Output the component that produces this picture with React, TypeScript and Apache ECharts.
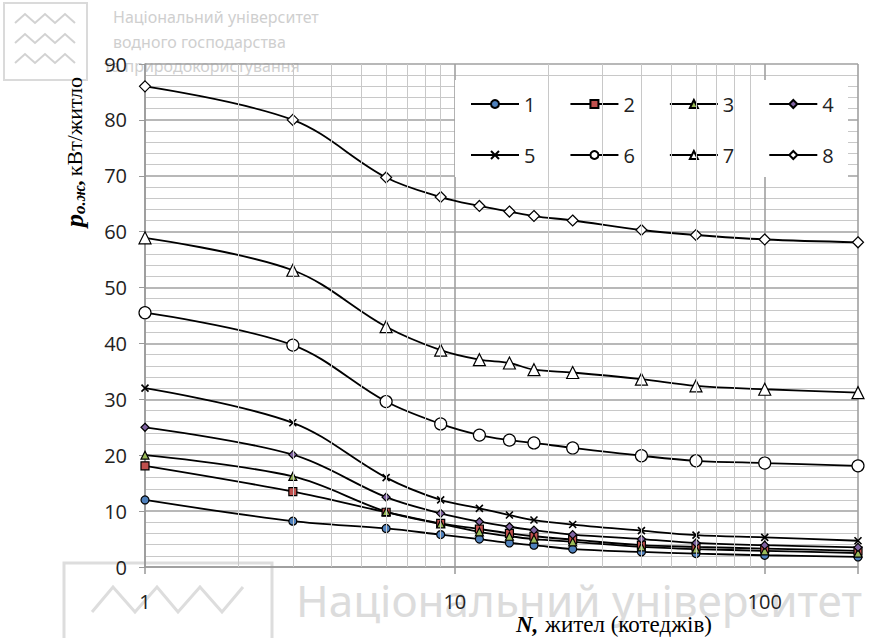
import React, { useEffect, useRef } from "react";
import * as echarts from "echarts";

const xValues = [1, 3, 6, 9, 12, 15, 18, 24, 40, 60, 100, 200];
const s1 = [12.0, 8.2, 6.9, 5.8, 5.0, 4.3, 3.9, 3.2, 2.7, 2.4, 2.1, 1.8];
const s2 = [18.1, 13.5, 9.8, 7.8, 6.8, 6.0, 5.5, 4.9, 3.9, 3.6, 3.3, 2.9];
const s3 = [20.0, 16.2, 9.9, 7.7, 6.3, 5.5, 5.0, 4.5, 3.6, 3.2, 2.9, 2.5];
const s4 = [25.0, 20.1, 12.5, 9.6, 8.1, 7.2, 6.6, 5.8, 5.0, 4.3, 3.9, 3.5];
const s5 = [32.0, 25.8, 16.0, 12.0, 10.5, 9.3, 8.4, 7.6, 6.5, 5.7, 5.3, 4.7];
const s6 = [45.5, 39.7, 29.6, 25.6, 23.6, 22.7, 22.2, 21.3, 19.9, 19.0, 18.6, 18.1];
const s7 = [58.9, 53.1, 43.0, 38.8, 37.1, 36.5, 35.3, 34.8, 33.6, 32.4, 31.8, 31.2];
const s8 = [86.0, 80.0, 69.7, 66.2, 64.6, 63.6, 62.8, 62.0, 60.3, 59.4, 58.6, 58.1];
const seriesNames = ["1", "2", "3", "4", "5", "6", "7", "8"];
const minorX = [2, 3, 4, 5, 6, 7, 8, 9, 20, 30, 40, 50, 60, 70, 80, 90];
const majorXLabels = [1, 10, 100];

const crossPath = "path://M0,0L10,10M10,0L0,10";

const markerDefs = [
  { symbol: "circle", size: 8, fill: "#4F81BD" },
  { symbol: "rect", size: 8, fill: "#C0504D" },
  { symbol: "triangle", size: 8, fill: "#9BBB59" },
  { symbol: "diamond", size: 8, fill: "#8064A2" },
  { symbol: crossPath, size: 7, fill: "#000" },
  { symbol: "circle", size: 12, fill: "#fff" },
  { symbol: "triangle", size: 12, fill: "#fff" },
  { symbol: "diamond", size: 11, fill: "#fff" },
];

export default function App() {
  const ref = useRef<HTMLDivElement>(null);
  useEffect(() => {
    if (!ref.current) return;
    const chart = echarts.init(ref.current, undefined, { renderer: "svg" });
    const all = [s1, s2, s3, s4, s5, s6, s7, s8];
    const series: any[] = all.map((vals, i) => {
      const m = markerDefs[i];
      const s: any = {
        name: seriesNames[i],
        type: "line",
        smooth: 0.35,
        z: 2,
        data: xValues.map((x, k) => [x, vals[k]]),
        symbol: m.symbol,
        symbolSize: m.size,
        showAllSymbol: true,
        lineStyle: { color: "#000", width: 1.8 },
        itemStyle: { color: m.fill, borderColor: "#000", borderWidth: i === 4 ? 1.6 : 1.2 },
        emphasis: { disabled: true },
      };
      if (i === 0) {
        s.markLine = {
          silent: true,
          symbol: "none",
          label: { show: false },
          lineStyle: { color: "#c8c8c8", width: 1, type: "solid" },
          data: minorX.map((x) => ({ xAxis: x })),
        };
      }
      return s;
    });

    const legendCommon = {
      itemWidth: 48,
      itemHeight: 10,
      itemGap: 34,
      padding: 0,
      textStyle: { fontSize: 20, color: "#222", fontFamily: "Open Sans" },
      selectedMode: false,
      z: 5,
    };

    const zig1 = (x0: number, y0: number) => {
      const pts: number[][] = [];
      for (let k = 0; k < 7; k++) pts.push([x0 + k * 10, y0 + (k % 2 === 0 ? 9 : 0)]);
      return pts;
    };

    chart.setOption({
      animation: false,
      grid: { left: 145, right: 30, top: 64, bottom: 71 },
      xAxis: {
        type: "log",
        logBase: 10,
        min: 1,
        max: 200,
        axisLine: { show: true, lineStyle: { color: "#999", width: 1.5 } },
        axisTick: { show: true, length: 7, lineStyle: { color: "#999", width: 1.5 } },
        axisLabel: {
          margin: 24,
          fontSize: 20,
          color: "#222",
          fontFamily: "Open Sans",
          formatter: (v: number) => (majorXLabels.some((m) => Math.abs(m - v) < 1e-6) ? String(Math.round(v)) : ""),
        },
        splitLine: { show: true, lineStyle: { color: "#a0a0a0", width: 1.6 } },
      },
      yAxis: {
        type: "value",
        min: 0,
        max: 90,
        interval: 10,
        axisLine: { show: true, lineStyle: { color: "#999", width: 1.5 } },
        axisTick: { show: true, length: 6, lineStyle: { color: "#999" } },
        axisLabel: { margin: 18, fontSize: 20, color: "#222", fontFamily: "Open Sans" },
        splitLine: { show: true, lineStyle: { color: "#a0a0a0", width: 1.6 } },
        minorTick: { show: false, splitNumber: 5 },
        minorSplitLine: { show: true, lineStyle: { color: "#c8c8c8", width: 1 } },
      },
      legend: [
        { ...legendCommon, data: seriesNames.slice(0, 4), left: 470, top: 94 },
        { ...legendCommon, data: seriesNames.slice(4), left: 470, top: 145 },
      ],
      series,
      graphic: [
        { type: "rect", z: 3, shape: { x: 455, y: 80, width: 393, height: 97 }, style: { fill: "#fff" } },
        // top-left watermark
        { type: "rect", z: -1, shape: { x: 4, y: 3, width: 83, height: 77 }, style: { fill: "none", stroke: "#dadada", lineWidth: 2 } },
        { type: "polyline", z: -1, shape: { points: zig1(15, 14) }, style: { fill: "none", stroke: "#d2d2d2", lineWidth: 2 } },
        { type: "polyline", z: -1, shape: { points: zig1(15, 34) }, style: { fill: "none", stroke: "#d2d2d2", lineWidth: 2 } },
        { type: "polyline", z: -1, shape: { points: zig1(15, 54) }, style: { fill: "none", stroke: "#d2d2d2", lineWidth: 2 } },
        { type: "text", z: -1, style: { x: 113, y: 17, text: "Національний університет", fill: "#cfcfcf", font: "16px 'Noto Sans'", textVerticalAlign: "middle" } },
        { type: "text", z: -1, style: { x: 113, y: 42, text: "водного господарства", fill: "#cfcfcf", font: "16px 'Noto Sans'", textVerticalAlign: "middle" } },
        { type: "text", z: -1, style: { x: 104, y: 66, text: "та природокористування", fill: "#cfcfcf", font: "16px 'Noto Sans'", textVerticalAlign: "middle" } },
        // bottom watermark
        { type: "rect", z: -1, shape: { x: 64, y: 563, width: 208, height: 100 }, style: { fill: "none", stroke: "#dddddd", lineWidth: 3 } },
        {
          type: "polyline",
          z: -1,
          shape: { points: [[92, 612], [113, 587], [135, 612], [157, 587], [178, 612], [200, 587], [222, 612], [243, 587]] },
          style: { fill: "none", stroke: "#dddddd", lineWidth: 3 },
        },
        { type: "text", z: -1, style: { x: 296, y: 600, text: "Національний університет", fill: "#dcdcdc", font: "44px 'Noto Sans'", textVerticalAlign: "middle" } },
        // axis titles
        {
          type: "text",
          z: 10,
          x: 74,
          y: 152,
          rotation: Math.PI / 2,
          style: {
            x: 0,
            y: 0,
            text: "{p|p}{s|о.ж}{p2|,} {t|кВт/житло}",
            textAlign: "center",
            textVerticalAlign: "middle",
            rich: {
              p: { fontFamily: "Liberation Serif", fontSize: 26, fontWeight: "bold", fontStyle: "italic", fill: "#000", color: "#000" },
              s: { fontFamily: "Liberation Serif", fontSize: 17, fontWeight: "bold", fontStyle: "italic", fill: "#000", color: "#000", verticalAlign: "bottom", padding: [10, 0, 0, 0] },
              p2: { fontFamily: "Liberation Serif", fontSize: 22, fontWeight: "bold", fontStyle: "italic", fill: "#000", color: "#000" },
              t: { fontFamily: "Liberation Serif", fontSize: 22, fill: "#000", color: "#000" },
            },
          },
        },
        {
          type: "text",
          z: 10,
          x: 614,
          y: 624,
          style: {
            x: 0,
            y: 0,
            text: "{n|N,}  {t|жител (котеджів)}",
            textAlign: "center",
            textVerticalAlign: "middle",
            rich: {
              n: { fontFamily: "Liberation Serif", fontSize: 23, fontWeight: "bold", fontStyle: "italic", fill: "#000", color: "#000" },
              t: { fontFamily: "Liberation Serif", fontSize: 23, fill: "#000", color: "#000" },
            },
          },
        },
      ],
    });
    return () => chart.dispose();
  }, []);
  return <div ref={ref} style={{ width: 888, height: 638, position: "absolute", left: 0, top: 0 }} />;
}
